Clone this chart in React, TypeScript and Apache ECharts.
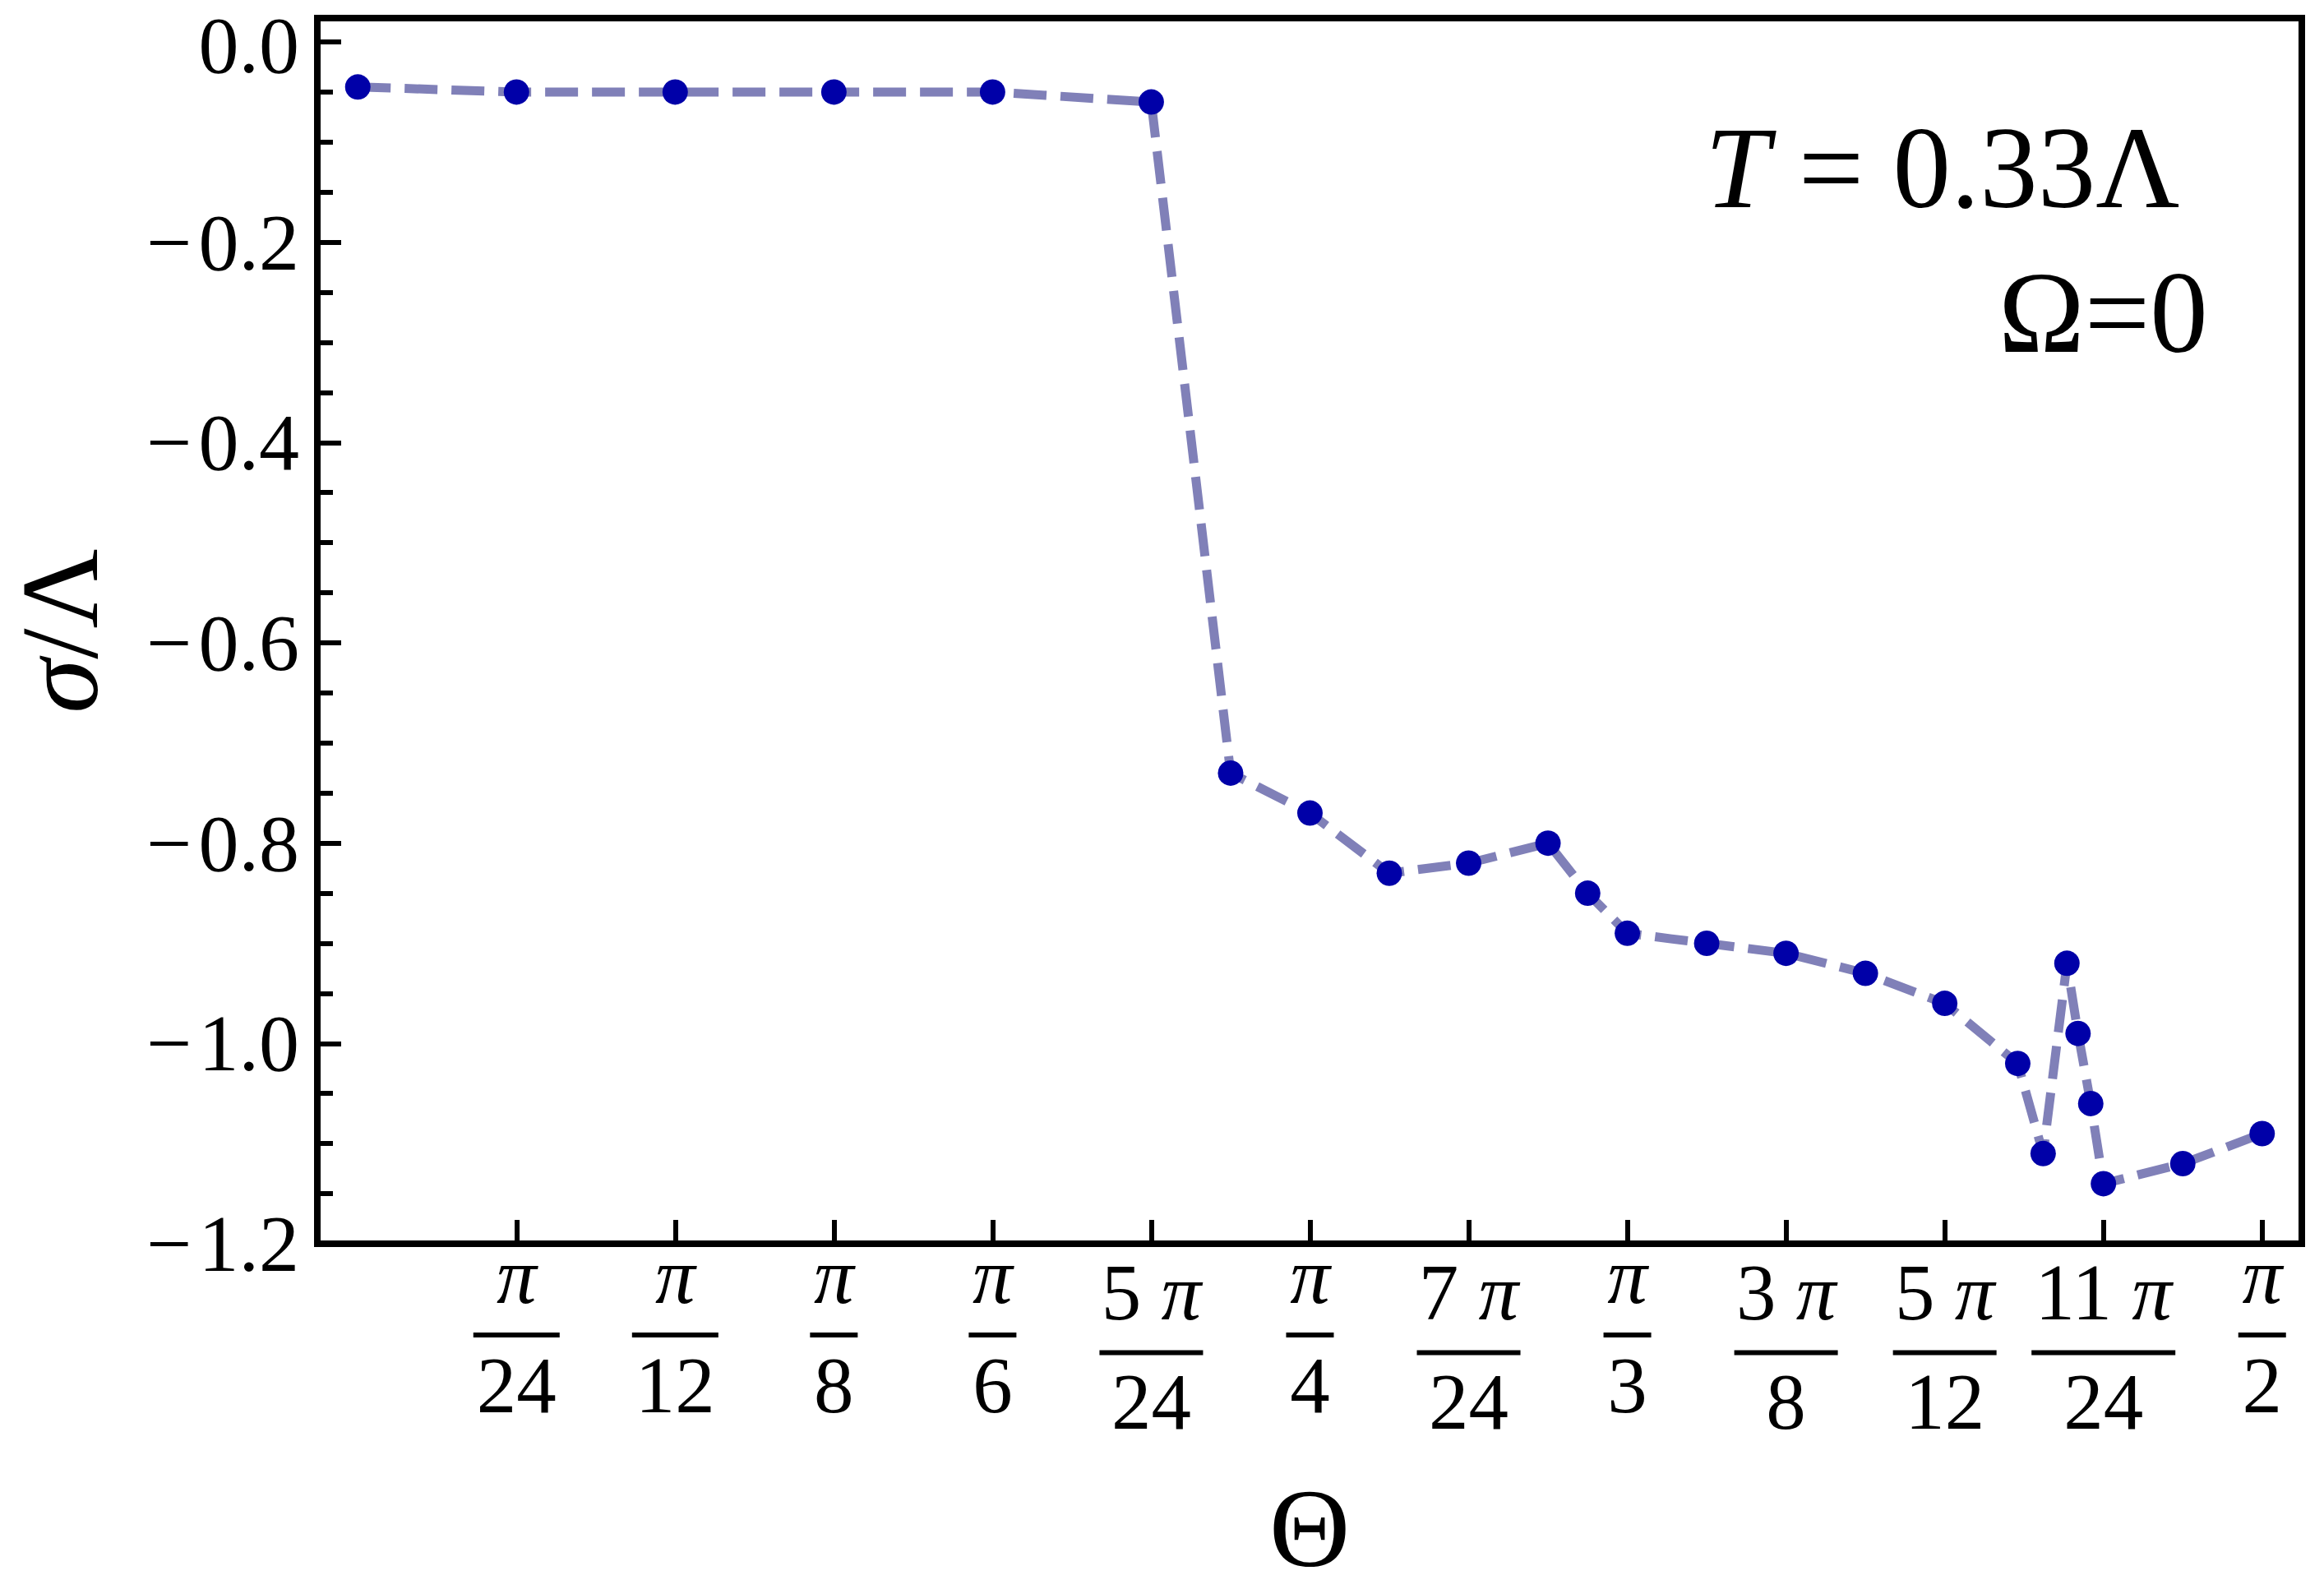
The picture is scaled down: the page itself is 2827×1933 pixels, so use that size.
import React, { useEffect, useRef } from "react";
import * as echarts from "echarts";

// Θ expressed in units of π/24
const thetaUnits = [0, 1, 2, 3, 4, 5, 5.5, 6, 6.5, 7, 7.5, 7.75, 8, 8.5, 9, 9.5, 10, 10.46, 10.62, 10.77, 10.84, 10.92, 11, 11.5, 12];
const sigmaOverLambda = [-0.045, -0.05, -0.05, -0.05, -0.05, -0.06, -0.73, -0.77, -0.83, -0.82, -0.8, -0.85, -0.89, -0.9, -0.91, -0.93, -0.96, -1.02, -1.11, -0.92, -0.99, -1.06, -1.14, -1.12, -1.09];

const xTickUnits = [1, 2, 3, 4, 5, 6, 7, 8, 9, 10, 11, 12];
const xTickNumerators = ["", "", "", "", "5", "", "7", "", "3", "5", "11", ""];
const xTickDenominators = ["24", "12", "8", "6", "24", "4", "24", "3", "8", "12", "24", "2"];

const yMajorInterval = 0.2;
const yMinorInterval = 0.05;
const yMin = -1.2;
const yMax = 0.0238;
const xMin = -0.255;
const xMax = 12.25;

const FONT = "'Liberation Serif', 'Times New Roman', serif";

export default function App() {
  const ref = useRef<HTMLDivElement>(null);

  useEffect(() => {
    if (!ref.current) return;
    const chart = echarts.init(ref.current, undefined, { renderer: "svg" });

    const data = thetaUnits.map((t, i) => [t, sigmaOverLambda[i]]);

    const xFormatter = (value: number) => {
      const i = xTickUnits.indexOf(Math.round(value));
      if (i < 0) return "";
      const num = xTickNumerators[i];
      const den = xTickDenominators[i];
      if (num === "") {
        const bar = den.length > 1 ? "bs2" : "bs1";
        return `{ps|π}\n{${bar}| }\n{ds|${den}}`;
      }
      const bar = num.length > 1 ? "bkk" : "bk";
      return `{n|${num} }{p|π}\n{${bar}| }\n{dk|${den}}`;
    };

    const yFormatter = (v: number) => {
      if (v > 0.01) return "";
      const s = Math.abs(v).toFixed(1);
      if (Math.abs(v) < 1e-9) return `{top|${s}}`;
      return `{y|\u2212\u200A${s}}`;
    };

    const barStyle = (w: number, lh: number) => ({
      width: w,
      height: 6,
      lineHeight: lh,
      backgroundColor: "#000",
      fontSize: 10,
    });

    const option: any = {
      animation: false,
      backgroundColor: "#ffffff",
      grid: {
        left: 386,
        top: 22,
        right: 27,
        bottom: 420,
        show: true,
        borderColor: "#000",
        borderWidth: 8,
        backgroundColor: "transparent",
        containLabel: false,
        outerBoundsMode: "none",
      },
      xAxis: {
        type: "value",
        min: xMin,
        max: xMax,
        axisLine: { show: false, onZero: false },
        splitLine: { show: false },
        axisTick: {
          show: true,
          inside: true,
          length: 29,
          lineStyle: { color: "#000", width: 6 },
          customValues: xTickUnits,
        },
        axisLabel: {
          show: true,
          margin: 7,
          color: "#000",
          fontFamily: FONT,
          fontSize: 97,
          customValues: xTickUnits,
          formatter: xFormatter,
          rich: {
            ps: { fontFamily: FONT, fontStyle: "italic", fontSize: 97, lineHeight: 64, color: "#000" },
            p: { fontFamily: FONT, fontStyle: "italic", fontSize: 97, lineHeight: 105, color: "#000" },
            n: { fontFamily: FONT, fontSize: 97, lineHeight: 105, color: "#000" },
            ds: { fontFamily: FONT, fontSize: 97, lineHeight: 43, color: "#000" },
            dk: { fontFamily: FONT, fontSize: 97, lineHeight: 79, color: "#000" },
            bs1: barStyle(58, 80),
            bs2: barStyle(105, 80),
            bk: barStyle(126, 41),
            bkk: barStyle(175, 41),
          },
        },
        name: "Θ",
        nameLocation: "middle",
        nameGap: 296,
        nameTextStyle: { fontFamily: FONT, fontSize: 136, lineHeight: 100, color: "#000" },
      },
      yAxis: [
        {
          type: "value",
          min: yMin,
          max: yMax,
          interval: yMajorInterval,
          position: "left",
          axisLine: { show: false, onZero: false },
          splitLine: { show: false },
          axisTick: {
            show: true,
            inside: true,
            length: 29,
            lineStyle: { color: "#000", width: 6 },
          },
          axisLabel: {
            show: true,
            showMaxLabel: false,
            margin: 22,
            color: "#000",
            fontFamily: FONT,
            fontSize: 98,
            lineHeight: 80,
            formatter: yFormatter,
            rich: {
              y: { fontFamily: FONT, fontSize: 98, lineHeight: 80, color: "#000" },
              top: { fontFamily: FONT, fontSize: 98, lineHeight: 80, color: "#000", padding: [8, 0, 0, 0] },
            },
          },
          name: "{it|σ}/Λ",
          nameLocation: "middle",
          nameGap: 263,
          nameRotate: 90,
          nameTextStyle: {
            fontFamily: FONT,
            fontSize: 134,
            lineHeight: 100,
            color: "#000",
            rich: { it: { fontFamily: FONT, fontStyle: "italic", fontSize: 134, lineHeight: 100, color: "#000" } },
          },
        },
        {
          type: "value",
          min: yMin,
          max: yMax,
          interval: yMinorInterval,
          position: "left",
          axisLine: { show: false, onZero: false },
          splitLine: { show: false },
          axisLabel: { show: false },
          axisTick: {
            show: true,
            inside: true,
            length: 19,
            lineStyle: { color: "#000", width: 6 },
          },
        },
      ],
      graphic: [
        {
          type: "text",
          x: 2074,
          y: 204,
          style: {
            text: "{it|T} = 0.33Λ",
            fontFamily: FONT,
            fontSize: 141,
            fill: "#000",
            align: "left",
            verticalAlign: "middle",
            rich: { it: { fontFamily: FONT, fontStyle: "italic", fontSize: 141 } },
          },
        },
        {
          type: "text",
          x: 2431,
          y: 380,
          style: {
            text: "Ω=0",
            fontFamily: FONT,
            fontSize: 141,
            fill: "#000",
            align: "left",
            verticalAlign: "middle",
          },
        },
      ],
      series: [
        {
          type: "line",
          data,
          xAxisIndex: 0,
          yAxisIndex: 0,
          symbol: "circle",
          symbolSize: 31,
          showSymbol: true,
          clip: false,
          itemStyle: { color: "#0000a8", borderWidth: 0 },
          lineStyle: { color: "#8080b8", width: 11, type: [40, 17] },
          emphasis: { disabled: true },
        },
      ],
    };

    chart.setOption(option);
    return () => chart.dispose();
  }, []);

  return (
    <div
      ref={ref}
      style={{ position: "fixed", left: 0, top: 0, width: "2827px", height: "1933px", background: "#fff" }}
    />
  );
}
